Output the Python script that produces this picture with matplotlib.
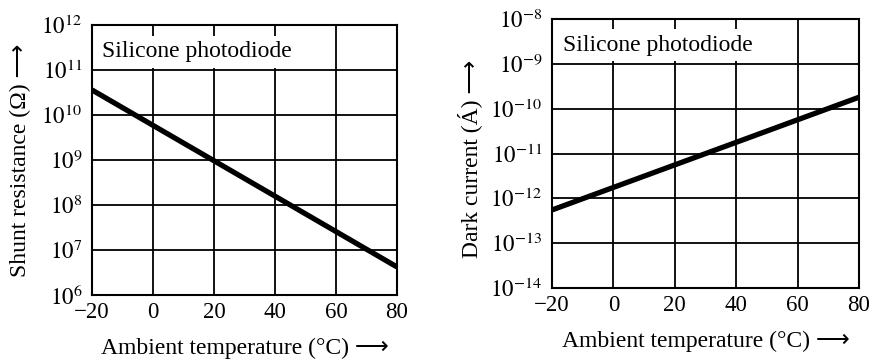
import matplotlib
matplotlib.use("Agg")
import matplotlib.pyplot as plt

# Temperature endpoints (°C) and the straight-line (log scale) characteristics
temp = [-20, 80]
shunt_resistance = [3.6e10, 4.2e6]      # Ohm
dark_current = [5.5e-13, 1.8e-10]       # A

x_ticks = [-20, 0, 20, 40, 60, 80]
x_tick_labels = ["\u221220", "0", "20", "40", "60", "80"]
r_exponents = [6, 7, 8, 9, 10, 11, 12]
i_exponents = [-14, -13, -12, -11, -10, -9, -8]

plt.rcParams["font.family"] = ["Liberation Serif", "DejaVu Sans"]
plt.rcParams["mathtext.fontset"] = "stix"

fig = plt.figure(figsize=(8.75, 3.59), dpi=100)
W, H = 875, 359

def make_axes(left, right, top, bottom):
    return fig.add_axes([left / W, 1 - bottom / H, (right - left) / W, (bottom - top) / H])

ax1 = make_axes(92, 397, 25, 295)
ax2 = make_axes(552, 859, 19, 288)

def style(ax, exps, ylabel, ylabel_xy, xlabel_y, title_xy):
    ax.set_yscale("log")
    ax.set_xlim(-20, 80)
    ax.set_ylim(10.0 ** exps[0], 10.0 ** exps[-1])
    ax.set_xticks(x_ticks)
    ax.set_xticklabels(x_tick_labels)
    ax.set_yticks([10.0 ** e for e in exps])
    ax.set_yticklabels([r"$10^{%d}$" % e for e in exps])
    ax.yaxis.set_minor_locator(matplotlib.ticker.NullLocator())
    ax.tick_params(length=0, labelsize=16.5)
    ax.tick_params(axis="x", pad=5)
    ax.tick_params(axis="y", pad=7)
    ax.grid(True, color="black", linewidth=1.3)
    for s in ax.spines.values():
        s.set_linewidth(1.5)
    xl = ax.set_xlabel("Ambient temperature (°C) \u27f6", fontsize=17)
    xl.set_va("center")
    ax.xaxis.set_label_coords(0.5, xlabel_y)
    yl = ax.set_ylabel(ylabel + " \u27f6", fontsize=17)
    yl.set_va("center")
    ax.yaxis.set_label_coords(*ylabel_xy)
    ax.text(title_xy[0], title_xy[1], "Silicone photodiode", transform=ax.transAxes,
            fontsize=17, va="center", ha="left", zorder=5,
            bbox=dict(facecolor="white", edgecolor="none", pad=4))

style(ax1, r_exponents, "Shunt resistance (\u03a9)", (-0.236, 0.5), -0.196, (0.033, 0.9))
style(ax2, i_exponents, "Dark current (\u00c1)", (-0.268, 0.48), -0.2, (0.036, 0.903))

ax1.plot(temp, shunt_resistance, color="black", linewidth=3.8, solid_capstyle="butt")
ax2.plot(temp, dark_current, color="black", linewidth=3.8, solid_capstyle="butt")

fig.savefig("out.png", dpi=100)
